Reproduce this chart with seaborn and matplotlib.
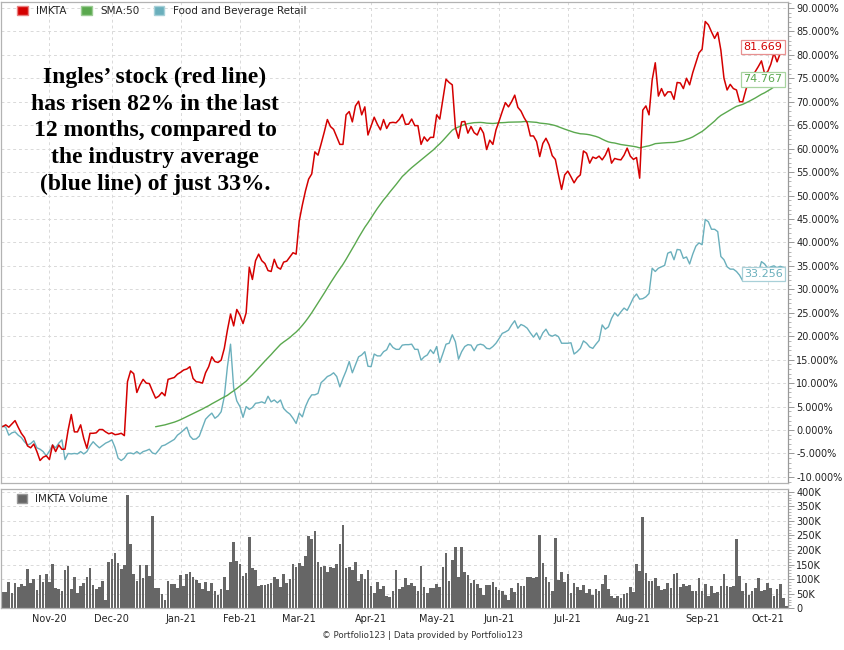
import pandas as pd
import seaborn as sns
import matplotlib.pyplot as plt
from matplotlib.patches import Patch
from matplotlib.ticker import MultipleLocator, FuncFormatter

# Trading calendar: Oct 12 2020 .. Oct 11 2021 (NYSE holidays removed)
HOLIDAYS = ['2020-11-26', '2020-12-25', '2021-01-01', '2021-01-18', '2021-02-15',
            '2021-04-02', '2021-05-31', '2021-07-05', '2021-09-06']
START_DATE = '2020-10-12'
END_DATE = '2021-10-11'

MONTH_LABELS = ['Nov-20', 'Dec-20', 'Jan-21', 'Feb-21', 'Mar-21', 'Apr-21',
                'May-21', 'Jun-21', 'Jul-21', 'Aug-21', 'Sep-21', 'Oct-21']

# IMKTA cumulative return, % (daily closes)
imkta = [
    0.7, 1.1, 0.6, 1.3, 2.0, 0.6, -0.7, -1.6, -3.4, -3.8,
    -3.0, -4.6, -6.5, -5.8, -5.5, -6.3, -3.2, -4.6, -3.2, -4.1,
    -4.1, 0.0, 3.3, -0.4, -0.4, 1.1, -1.8, -3.9, -0.7, -0.7,
    -0.6, 0.1, 0.1, -0.4, -0.8, -0.6, -1.0, -0.9, -0.7, -1.2,
    10.3, 12.6, 12.0, 8.0, 9.6, 10.8, 10.0, 9.9, 8.3, 6.8,
    7.2, 8.0, 7.3, 10.8, 11.0, 11.2, 11.9, 12.3, 12.8, 13.0,
    13.5, 11.0, 10.3, 10.2, 10.0, 12.2, 13.5, 15.6, 14.6, 14.4,
    14.9, 17.4, 21.3, 24.7, 22.2, 25.7, 24.5, 22.7, 25.0, 34.7,
    32.1, 36.1, 37.5, 36.1, 35.5, 34.0, 33.8, 36.4, 34.7, 34.3,
    35.8, 36.0, 36.9, 37.8, 37.5, 44.6, 48.0, 51.0, 53.5, 54.6,
    59.3, 58.6, 61.0, 63.5, 66.2, 64.7, 64.1, 62.5, 60.9, 60.9,
    67.2, 67.9, 65.7, 69.1, 70.1, 67.2, 68.9, 62.9, 64.8, 66.7,
    65.2, 64.0, 66.2, 64.3, 65.5, 65.6, 65.5, 66.2, 67.3, 65.2,
    65.2, 66.3, 64.9, 64.9, 60.9, 62.5, 61.6, 62.4, 62.4, 67.2,
    66.3, 70.5, 74.8, 74.1, 73.6, 64.5, 62.2, 65.7, 65.8, 63.3,
    64.7, 63.4, 62.9, 64.5, 63.3, 59.8, 61.8, 60.9, 64.0, 65.9,
    67.9, 69.8, 68.9, 70.0, 71.4, 68.8, 68.0, 66.6, 65.5, 62.7,
    62.7, 61.5, 58.3, 61.1, 62.2, 60.8, 58.5, 57.7, 54.4, 51.3,
    54.4, 55.2, 54.0, 52.7, 53.8, 54.4, 59.5, 59.0, 56.9, 58.2,
    57.9, 58.4, 57.6, 58.6, 60.1, 56.9, 57.9, 57.7, 57.6, 58.6,
    60.1, 58.4, 57.7, 58.1, 53.7, 68.2, 69.1, 67.2, 74.6, 78.3,
    71.2, 72.8, 71.2, 72.1, 72.1, 70.5, 74.1, 74.0, 72.8, 75.0,
    73.6, 76.2, 78.3, 80.4, 81.2, 87.1, 86.4, 84.9, 83.5, 84.8,
    81.0, 75.0, 72.5, 73.7, 72.8, 72.5, 70.0, 70.0, 72.5, 74.6,
    75.5, 76.4, 77.5, 78.7, 76.0, 76.4, 78.0, 80.4, 78.5, 80.3,
    81.669,
]

# Food and Beverage Retail industry cumulative return, %
industry = [
    0.85, 0.6, -1.1, -0.6, -0.4, -1.1, -1.6, -2.5, -3.2, -2.9,
    -2.3, -3.8, -4.1, -4.6, -5.5, -4.5, -3.2, -3.8, -2.8, -2.1,
    -6.3, -5.0, -5.1, -5.0, -5.1, -4.6, -5.1, -4.6, -3.4, -2.5,
    -3.2, -3.8, -3.3, -2.8, -2.5, -2.1, -3.7, -6.0, -6.5, -6.0,
    -5.0, -4.9, -5.1, -4.6, -5.1, -4.6, -4.4, -4.1, -4.9, -5.1,
    -4.3, -3.4, -3.2, -2.8, -2.4, -2.0, -1.1, -0.6, 0.0, 0.6,
    -1.3, -2.0, -1.9, -1.3, 0.5, 2.3, 3.0, 3.6, 2.5, 3.0,
    3.9, 7.1, 13.5, 18.3, 9.0, 6.2, 5.0, 2.7, 5.0, 4.4,
    4.8, 5.7, 5.8, 6.0, 5.7, 7.2, 6.0, 6.4, 5.8, 6.4,
    4.6, 3.9, 3.4, 2.5, 1.4, 3.6, 2.8, 5.0, 6.5, 7.5,
    7.5, 7.8, 10.1, 10.7, 11.4, 11.7, 12.2, 11.4, 9.2, 11.0,
    12.6, 14.6, 12.2, 13.9, 15.6, 16.0, 16.7, 13.6, 13.5, 16.2,
    15.8, 15.8, 16.7, 17.1, 18.5, 17.6, 17.2, 17.2, 18.1, 18.2,
    18.2, 18.3, 17.2, 17.2, 14.9, 15.6, 16.0, 17.1, 16.3, 17.8,
    14.4, 16.3, 18.3, 18.5, 20.3, 18.8, 15.1, 16.7, 17.8, 18.2,
    18.1, 16.9, 18.1, 18.3, 18.1, 17.4, 17.3, 17.8, 18.5, 19.5,
    20.6, 20.9, 21.3, 22.4, 23.3, 21.7, 22.5, 22.2, 21.7, 20.7,
    19.8, 20.7, 19.3, 20.7, 21.5, 20.3, 20.0, 20.3, 19.9, 18.5,
    18.5, 18.5, 18.6, 16.2, 16.7, 17.4, 19.0, 18.5, 17.7, 17.4,
    18.3, 19.1, 22.4, 21.5, 22.0, 23.8, 25.0, 24.3, 25.2, 26.0,
    25.5, 26.8, 28.2, 29.0, 27.9, 28.0, 28.4, 29.1, 34.5, 33.8,
    34.5, 34.8, 35.1, 37.7, 38.0, 36.3, 38.5, 38.4, 36.6, 36.9,
    35.4, 37.5, 39.2, 39.9, 39.5, 44.9, 44.4, 42.8, 42.8, 42.3,
    37.0, 36.3, 34.8, 34.3, 34.3, 33.8, 33.0, 31.8, 32.0, 32.3,
    32.5, 33.0, 33.5, 35.9, 35.4, 34.5, 34.8, 35.0, 34.6, 34.9,
    34.7,
]

# IMKTA daily volume, thousands of shares
volume = [
    57, 57, 89, 54, 86, 74, 83, 77, 135, 88,
    102, 63, 115, 91, 117, 89, 152, 71, 67, 58,
    131, 146, 65, 106, 54, 77, 86, 109, 137, 80,
    67, 72, 94, 29, 158, 168, 191, 157, 136, 147,
    390, 221, 118, 93, 147, 104, 150, 111, 317, 69,
    71, 48, 29, 94, 83, 82, 71, 113, 77, 117,
    125, 109, 97, 86, 65, 91, 59, 86, 59, 46,
    65, 106, 63, 160, 226, 162, 152, 111, 122, 243,
    137, 131, 77, 79, 79, 83, 88, 106, 99, 74,
    117, 86, 99, 151, 141, 154, 145, 179, 248, 237,
    265, 160, 143, 145, 126, 141, 137, 151, 219, 286,
    137, 141, 131, 160, 94, 117, 99, 131, 77, 51,
    91, 66, 78, 42, 40, 59, 131, 65, 74, 103,
    79, 88, 77, 59, 145, 74, 54, 69, 69, 83,
    74, 141, 191, 94, 166, 209, 109, 209, 126, 114,
    86, 97, 82, 71, 46, 79, 80, 90, 72, 63,
    61, 45, 29, 69, 56, 88, 77, 77, 109, 107,
    103, 106, 251, 154, 109, 91, 61, 242, 97, 125,
    89, 118, 51, 86, 72, 63, 80, 51, 66, 46,
    65, 61, 82, 114, 67, 42, 34, 42, 34, 49,
    51, 72, 57, 152, 129, 312, 122, 95, 95, 105,
    77, 63, 65, 86, 69, 117, 122, 72, 83, 77,
    80, 61, 61, 103, 59, 83, 42, 77, 54, 55,
    77, 118, 77, 74, 77, 238, 112, 61, 88, 46,
    59, 69, 103, 61, 63, 86, 69, 42, 66, 82,
    37, 8,
]

# last values shown in the boxes at the right edge
last_values = [81.669, 74.767, 33.256]

RED = '#d40000'
GREEN = '#5aa84e'
TEAL = '#6aafbc'
GRID = '#d9d9d9'
SPINE = '#b3b3b3'

sns.set_style('white')
plt.rcParams['font.family'] = ['DejaVu Sans']

dates = pd.date_range(START_DATE, END_DATE,
                      freq=pd.offsets.CustomBusinessDay(holidays=HOLIDAYS))
n_days = len(dates)

lines = pd.DataFrame({'day': range(len(imkta)), 'imkta': imkta, 'industry': industry})
lines['sma50'] = lines['imkta'].rolling(50).mean()
vol_df = pd.DataFrame({'day': range(len(volume)), 'volume': volume})

month_pos = [int((dates >= pd.to_datetime(m, format='%b-%y')).argmax()) for m in MONTH_LABELS]

fig = plt.figure(figsize=(8.45, 6.5), dpi=100)
ax = fig.add_axes([1 / 845, 1 - 483 / 650, 787 / 845, 481 / 650])
ax2 = fig.add_axes([1 / 845, 1 - 608.3 / 650, 787 / 845, 119.3 / 650])

# price panel
sns.lineplot(data=lines, x='day', y='industry', color=TEAL, lw=1.0, ax=ax, legend=False)
sns.lineplot(data=lines, x='day', y='sma50', color=GREEN, lw=1.0, ax=ax, legend=False)
sns.lineplot(data=lines, x='day', y='imkta', color=RED, lw=1.1, ax=ax, legend=False)

ax.set_xlim(-0.5, n_days - 0.5)
ax.set_ylim(-11.3, 91.26)
ax.yaxis.tick_right()
ax.yaxis.set_major_locator(MultipleLocator(5))
ax.yaxis.set_minor_locator(MultipleLocator(1))
ax.yaxis.set_major_formatter(FuncFormatter(lambda v, p: f'{v:.3f}%'))
ax.tick_params(axis='y', which='major', length=4, width=0.7, color='#999999',
               labelsize=7, labelcolor='#222222', pad=2)
ax.tick_params(axis='y', which='minor', length=2, width=0.6, color='#aaaaaa')
ax.set_xticks(month_pos)
ax.tick_params(axis='x', length=0, labelbottom=False)
ax.grid(True, color=GRID, ls=(0, (3, 3)), lw=0.7)
ax.set_xlabel('')
ax.set_ylabel('')

handles = [Patch(facecolor=RED, edgecolor='#e88080'),
           Patch(facecolor=GREEN, edgecolor='#9ccc94'),
           Patch(facecolor=TEAL, edgecolor='#a6d0d8')]
ax.legend(handles, ['IMKTA', 'SMA:50', 'Food and Beverage Retail'], loc='upper left',
          bbox_to_anchor=(0.013, 1.005), ncol=3, frameon=False, fontsize=7.5,
          handlelength=1.0, handleheight=1.0, handletextpad=0.8, columnspacing=1.4,
          borderaxespad=0.2)

box_edges = ['#e89090', '#a8d4a0', '#a8d0d8']
for val, col, edge in zip(last_values, [RED, GREEN, TEAL], box_edges):
    ax.annotate(f'{val:.3f}', xy=(0.993, val), xycoords=('axes fraction', 'data'),
                ha='right', va='center', fontsize=8, color=col,
                bbox=dict(boxstyle='square,pad=0.2', fc='white', ec=edge, lw=0.9))

fig.text(155 / 845, 1 - 131 / 650,
         'Ingles\u2019 stock (red line)\nhas risen 82% in the last\n12 months, compared to\n'
         'the industry average\n(blue line) of just 33%.',
         ha='center', va='center', fontsize=17, fontweight='bold',
         family=['Liberation Serif', 'DejaVu Serif'], linespacing=1.36, color='black')

# volume panel
sns.barplot(data=vol_df, x='day', y='volume', native_scale=True, color='#666666',
            saturation=1, width=0.85, errorbar=None, ax=ax2, linewidth=0)
ax2.set_xlim(-0.5, n_days - 0.5)
ax2.set_ylim(0, 409.3)
ax2.yaxis.tick_right()
ax2.yaxis.set_major_locator(MultipleLocator(50))
ax2.yaxis.set_minor_locator(MultipleLocator(10))
ax2.yaxis.set_major_formatter(FuncFormatter(lambda v, p: '0' if v == 0 else f'{int(v)}K'))
ax2.tick_params(axis='y', which='major', length=4, width=0.7, color='#999999',
                labelsize=7, labelcolor='#222222', pad=2)
ax2.tick_params(axis='y', which='minor', length=2, width=0.6, color='#aaaaaa')
ax2.set_xticks(month_pos)
ax2.set_xticklabels(MONTH_LABELS)
ax2.tick_params(axis='x', length=0, labelsize=7, labelcolor='#222222', pad=4)
ax2.grid(True, color=GRID, ls=(0, (3, 3)), lw=0.7)
ax2.set_axisbelow(True)
ax2.set_xlabel('')
ax2.set_ylabel('')
ax2.legend([Patch(facecolor='#666666', edgecolor='#999999')], ['IMKTA Volume'],
           loc='upper left', bbox_to_anchor=(0.012, 1.01), frameon=False, fontsize=7.5,
           handlelength=1.0, handleheight=1.0, handletextpad=0.8, borderaxespad=0.2)

for a in (ax, ax2):
    for side, sp in a.spines.items():
        sp.set_color(SPINE)
        sp.set_linewidth(0.9)
    a.spines['right'].set_color('#999999')

fig.text(0.5, 1 - 636 / 650, '\u00a9 Portfolio123 | Data provided by Portfolio123',
         ha='center', va='center', fontsize=6.2, color='#333333')

fig.savefig('out.png', dpi=100, facecolor='white')
